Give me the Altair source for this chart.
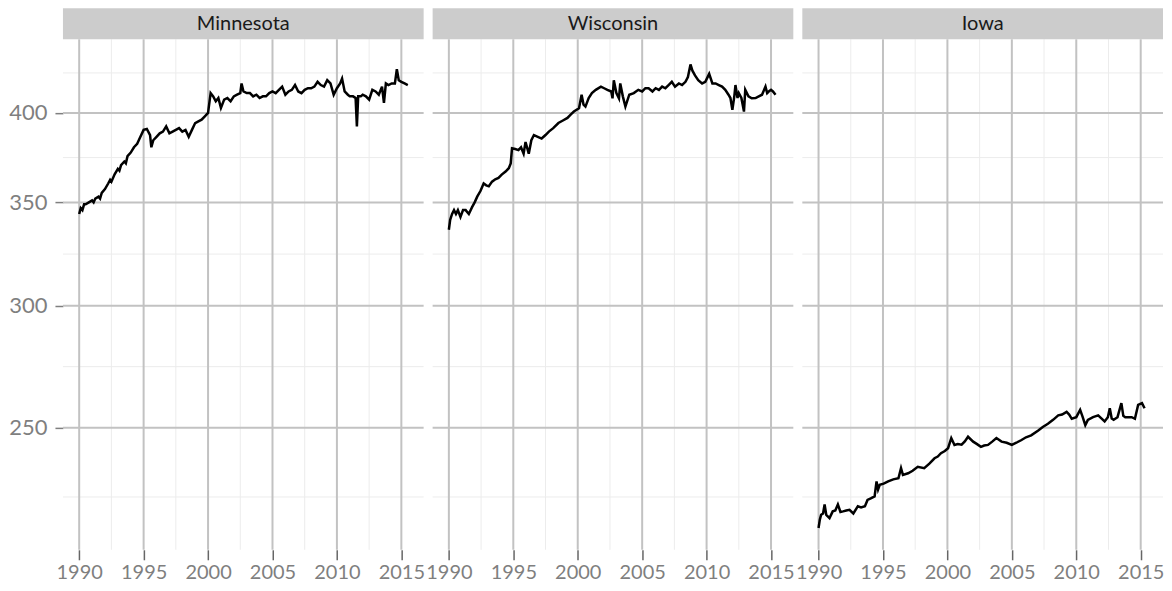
import altair as alt
import pandas as pd

states = ["Minnesota", "Wisconsin", "Iowa"]

mn_year = [1990.00, 1990.12, 1990.25, 1990.38, 1990.50, 1990.75, 1991.00, 1991.12, 1991.25, 1991.50,
           1991.62, 1991.75, 1992.00, 1992.25, 1992.40, 1992.50, 1992.75, 1993.00, 1993.12, 1993.25,
           1993.50, 1993.62, 1993.75, 1994.00, 1994.25, 1994.50, 1994.75, 1995.00, 1995.25, 1995.50,
           1995.60, 1995.75, 1996.00, 1996.25, 1996.50, 1996.75, 1997.00, 1997.25, 1997.50, 1997.75,
           1998.00, 1998.25, 1998.50, 1998.75, 1999.00, 1999.25, 1999.50, 1999.75, 2000.00, 2000.20,
           2000.40, 2000.60, 2000.80, 2001.00, 2001.25, 2001.50, 2001.75, 2002.00, 2002.25, 2002.50,
           2002.60, 2002.75, 2003.00, 2003.25, 2003.50, 2003.75, 2004.00, 2004.25, 2004.50, 2004.75,
           2005.00, 2005.25, 2005.50, 2005.75, 2006.00, 2006.25, 2006.50, 2006.75, 2007.00, 2007.25,
           2007.50, 2007.75, 2008.00, 2008.25, 2008.50, 2008.75, 2009.00, 2009.25, 2009.50, 2009.75,
           2010.00, 2010.25, 2010.40, 2010.60, 2010.85, 2011.00, 2011.25, 2011.45, 2011.55, 2011.65,
           2011.85, 2012.00, 2012.25, 2012.50, 2012.75, 2013.00, 2013.25, 2013.50, 2013.65, 2013.80,
           2014.00, 2014.25, 2014.50, 2014.65, 2014.80, 2015.00, 2015.25, 2015.50]
mn_value = [344, 347, 346, 349, 349, 350, 351, 350, 352, 353,
            352, 355, 357, 360, 362, 361, 365, 368, 367, 370,
            372, 371, 375, 377, 380, 382, 386, 390, 390.5, 387,
            380, 384, 386, 388, 389, 392, 388, 389, 390, 391,
            389, 390, 386, 390, 394, 395, 396, 398, 400, 412,
            410, 407, 409, 403, 408, 409, 407, 410, 411, 412,
            418, 413, 412, 412, 410, 411, 409, 410, 410, 412,
            413, 412, 414, 416, 411, 413, 414, 417, 413, 412,
            414, 415, 415, 416, 419, 417, 416, 420, 418, 411,
            415, 418, 421, 413, 411, 410, 410, 409, 392, 410,
            410, 411, 410, 408, 414, 413, 411, 416, 406, 418,
            417, 418, 418, 427, 420, 419, 418, 417]

wi_year = [1990.00, 1990.10, 1990.25, 1990.40, 1990.55, 1990.70, 1990.90, 1991.10, 1991.30, 1991.55,
           1991.80, 1992.00, 1992.20, 1992.45, 1992.70, 1992.90, 1993.10, 1993.35, 1993.60, 1993.85,
           1994.10, 1994.40, 1994.65, 1994.80, 1994.90, 1995.15, 1995.40, 1995.60, 1995.80, 1995.95,
           1996.20, 1996.40, 1996.60, 1996.90, 1997.20, 1997.50, 1997.76, 1998.10, 1998.50, 1998.85,
           1999.20, 1999.45, 1999.70, 2000.10, 2000.30, 2000.45, 2000.60, 2000.85, 2001.10, 2001.40,
           2001.80, 2002.05, 2002.30, 2002.60, 2002.70, 2002.80, 2003.00, 2003.20, 2003.30, 2003.50,
           2003.70, 2004.00, 2004.35, 2004.70, 2005.00, 2005.25, 2005.50, 2005.80, 2006.05, 2006.30,
           2006.55, 2006.80, 2007.05, 2007.30, 2007.55, 2007.85, 2008.10, 2008.36, 2008.55, 2008.75,
           2008.90, 2009.10, 2009.35, 2009.65, 2009.90, 2010.20, 2010.45, 2010.70, 2010.95, 2011.20,
           2011.45, 2011.70, 2011.85, 2012.00, 2012.15, 2012.24, 2012.40, 2012.50, 2012.70, 2012.90,
           2013.00, 2013.25, 2013.50, 2013.80, 2014.05, 2014.30, 2014.57, 2014.70, 2014.80, 2015.00,
           2015.15, 2015.35]
wi_value = [336, 341, 344, 346, 344, 346, 342.5, 346, 346, 344,
            347.5, 350, 353, 356, 360, 359, 358.5, 361, 362.3, 363,
            364.8, 366.5, 368.3, 371, 379.4, 379, 378.4, 380, 376.4, 383,
            376.4, 384, 387, 386, 385, 387, 389, 391, 394, 395.5,
            397, 399, 400.8, 402.8, 411, 405, 403.8, 409, 412, 414,
            416, 415, 414, 413, 408.8, 420, 412, 408.8, 418, 410,
            403.8, 411, 412, 414, 413, 415, 415, 413, 415, 414,
            416, 415, 417, 419, 416, 418, 417, 419, 422, 430,
            426, 423, 420, 418, 419, 424, 418, 418, 417, 416,
            414, 411, 409, 401.8, 410, 417, 409, 412, 409, 400.8,
            414, 410, 408.8, 409, 410, 411, 416, 412, 412.8, 414,
            413, 411]

ia_year = [1990.00, 1990.10, 1990.20, 1990.35, 1990.47, 1990.60, 1990.85, 1991.10, 1991.30, 1991.50,
           1991.70, 1991.90, 1992.15, 1992.40, 1992.70, 1993.05, 1993.30, 1993.60, 1993.80, 1994.05,
           1994.35, 1994.50, 1994.62, 1994.75, 1995.05, 1995.40, 1995.80, 1996.20, 1996.40, 1996.55,
           1996.95, 1997.30, 1997.70, 1998.20, 1998.60, 1999.00, 1999.25, 1999.50, 1999.80, 2000.05,
           2000.30, 2000.55, 2000.80, 2001.10, 2001.35, 2001.60, 2002.00, 2002.30, 2002.60, 2002.85,
           2003.15, 2003.50, 2003.80, 2004.20, 2004.60, 2005.00, 2005.35, 2005.75, 2006.10, 2006.50,
           2007.05, 2007.40, 2007.80, 2008.20, 2008.60, 2008.90, 2009.25, 2009.45, 2009.65, 2010.00,
           2010.30, 2010.50, 2010.70, 2010.90, 2011.30, 2011.70, 2012.20, 2012.45, 2012.60, 2012.75,
           2012.90, 2013.20, 2013.50, 2013.65, 2013.80, 2014.30, 2014.55, 2014.80, 2015.10, 2015.30]
ia_value = [215.3, 218, 219.6, 220, 223, 219.5, 218.5, 220.7, 221, 223,
            220.5, 220.7, 221, 221.2, 220, 222.4, 222, 222.4, 224.5, 225,
            225.7, 230.8, 228, 229.6, 230, 230.8, 231.5, 231.9, 235.4, 233,
            233.6, 234.5, 235.9, 235.4, 237, 238.9, 239.5, 240.7, 241.5, 242.5,
            246.2, 243.7, 244, 243.8, 245, 246.7, 244.9, 244, 243, 243.5,
            243.7, 245, 246.2, 244.9, 244.5, 243.7, 244.5, 245.5, 246.5, 247.2,
            249, 250.3, 251.5, 253, 254.7, 255, 256, 255, 253.4, 254,
            256.8, 254, 251, 253, 254, 254.7, 252.4, 254, 257.4, 253.5,
            253, 254, 259.4, 254.5, 254, 254, 253.4, 258.7, 259.4, 257.4]

x_major = [1990, 1995, 2000, 2005, 2010, 2015]
x_minor = [1992.5, 1997.5, 2002.5, 2007.5, 2012.5]
y_major = [250, 300, 350, 400]
y_minor = [225.5, 273.9, 324.0, 374.2, 424.6]

X_DOMAIN = [1988.74, 2016.73]
Y_DOMAIN = [208.4, 446.5]
W, H, STRIP = 361, 511, 31
FONT = "Lato"
GREY_TXT = "#7f7f7f"


def panel(name, years, values, show_y):
    df = pd.DataFrame({"year": years, "value": values})
    xs = alt.Scale(domain=X_DOMAIN, nice=False, zero=False)
    ys = alt.Scale(type="log", domain=Y_DOMAIN, nice=False)

    xaxis = alt.Axis(values=x_major, format="d", grid=False, domain=False, ticks=True,
                     tickColor="#666666", tickSize=10, tickWidth=1.5,
                     labelColor=GREY_TXT, labelFont=FONT, labelFontSize=20,
                     labelPadding=3, labelFlush=False, labelOverlap=False, title=None)
    if show_y:
        yaxis = alt.Axis(values=y_major, format="d", grid=False, domain=False,
                         ticks=True, tickColor="#7f7f7f", tickSize=8, tickWidth=1.5,
                         labelColor=GREY_TXT, labelFont=FONT, labelFontSize=22,
                         labelPadding=8, title=None)
    else:
        yaxis = alt.Axis(values=y_major, grid=False, domain=False, ticks=False,
                         labels=False, title=None)

    vmin = alt.Chart(pd.DataFrame({"x": x_minor})).mark_rule(color="#ececec", strokeWidth=1).encode(
        x=alt.X("x:Q", scale=xs, axis=xaxis))
    hmin = alt.Chart(pd.DataFrame({"y": y_minor})).mark_rule(color="#ececec", strokeWidth=1).encode(
        y=alt.Y("y:Q", scale=ys, axis=yaxis))
    vmaj = alt.Chart(pd.DataFrame({"x": x_major})).mark_rule(color="#c2c2c2", strokeWidth=2).encode(
        x=alt.X("x:Q", scale=xs, axis=xaxis))
    hmaj = alt.Chart(pd.DataFrame({"y": y_major})).mark_rule(color="#c2c2c2", strokeWidth=2).encode(
        y=alt.Y("y:Q", scale=ys, axis=yaxis))

    sdf = pd.DataFrame({"state": [name]})
    strip = alt.Chart(sdf).mark_rect(color="#cccccc").encode(
        x=alt.value(0), x2=alt.value(W), y=alt.value(-STRIP), y2=alt.value(0))
    label = alt.Chart(sdf).mark_text(font=FONT, fontSize=20, color="#1a1a1a",
                                     baseline="middle", align="center").encode(
        x=alt.value(W / 2), y=alt.value(-STRIP / 2), text="state:N")

    line = alt.Chart(df).mark_line(color="black", strokeWidth=2.5, clip=True).encode(
        x=alt.X("year:Q", scale=xs, axis=xaxis),
        y=alt.Y("value:Q", scale=ys, axis=yaxis))

    return alt.layer(vmin, hmin, vmaj, hmaj, strip, label, line).properties(width=W, height=H)


chart = alt.hconcat(
    panel(states[0], mn_year, mn_value, True),
    panel(states[1], wi_year, wi_value, False),
    panel(states[2], ia_year, ia_value, False),
    spacing=9, bounds="flush",
).configure_view(stroke=None).properties(
    padding={"left": 0, "top": 0, "right": 0, "bottom": 0}, background="white")

chart.save("out.html", embed_options={"renderer": "svg", "actions": False})
